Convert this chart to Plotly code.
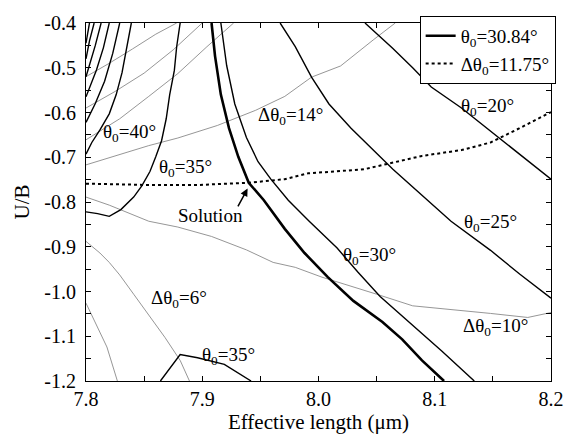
import plotly.graph_objects as go

FONT = "Times New Roman, Liberation Serif, DejaVu Serif, serif"

# ---- theta0 contours (solid black) ----
th3084_x = [7.908, 7.911, 7.916, 7.923, 7.931, 7.940, 7.953, 7.971, 7.988, 8.008, 8.030, 8.055, 8.072, 8.089, 8.108]
th3084_y = [-0.400, -0.474, -0.560, -0.635, -0.699, -0.757, -0.796, -0.860, -0.914, -0.968, -1.021, -1.068, -1.107, -1.154, -1.200]

th30_x = [7.916, 7.921, 7.928, 7.938, 7.948, 7.959, 7.974, 7.992, 8.016, 8.034, 8.053, 8.081, 8.106, 8.134]
th30_y = [-0.400, -0.495, -0.581, -0.656, -0.710, -0.749, -0.796, -0.843, -0.903, -0.957, -1.011, -1.075, -1.133, -1.200]

th25_x = [7.967, 7.980, 7.994, 8.009, 8.028, 8.047, 8.064, 8.089, 8.114, 8.148, 8.173, 8.200]
th25_y = [-0.400, -0.453, -0.521, -0.581, -0.635, -0.684, -0.727, -0.785, -0.843, -0.908, -0.961, -1.015]

th20_x = [8.040, 8.064, 8.081, 8.097, 8.123, 8.148, 8.173, 8.200]
th20_y = [-0.400, -0.457, -0.500, -0.543, -0.590, -0.641, -0.693, -0.749]

th35a_x = [7.881, 7.878, 7.876, 7.872, 7.869, 7.865, 7.860, 7.855, 7.848, 7.841, 7.830, 7.820, 7.810, 7.800]
th35a_y = [-0.400, -0.453, -0.506, -0.560, -0.614, -0.663, -0.699, -0.732, -0.764, -0.789, -0.817, -0.832, -0.826, -0.822]

th35b_x = [7.864, 7.881, 7.896, 7.919, 7.942]
th35b_y = [-1.200, -1.141, -1.148, -1.163, -1.200]

th40_x = [7.839, 7.835, 7.831, 7.826, 7.820, 7.812, 7.805, 7.800]
th40_y = [-0.400, -0.453, -0.511, -0.560, -0.603, -0.639, -0.667, -0.693]

# higher theta0 contours crowded in the upper-left corner
th45_x = [7.829, 7.823, 7.816, 7.808, 7.800]
th45_y = [-0.400, -0.468, -0.530, -0.580, -0.622]
th50_x = [7.820, 7.815, 7.809, 7.800]
th50_y = [-0.400, -0.455, -0.505, -0.565]
th55_x = [7.813, 7.808, 7.800]
th55_y = [-0.400, -0.450, -0.520]
th60_x = [7.807, 7.803, 7.800]
th60_y = [-0.400, -0.440, -0.480]
th65_x = [7.803, 7.800]
th65_y = [-0.400, -0.445]

# ---- delta-theta0 contours (thin grey) ----
d20_x = [7.800, 7.820, 7.840, 7.860, 7.878]
d20_y = [-0.520, -0.490, -0.458, -0.425, -0.400]
d18_x = [7.800, 7.825, 7.850, 7.875, 7.900]
d18_y = [-0.590, -0.553, -0.512, -0.460, -0.400]
d16_x = [7.800, 7.829, 7.854, 7.879, 7.904, 7.927]
d16_y = [-0.661, -0.614, -0.564, -0.513, -0.453, -0.400]
d14_x = [7.800, 7.829, 7.854, 7.879, 7.913, 7.946, 7.971, 7.994, 8.019, 8.047, 8.066]
d14_y = [-0.717, -0.693, -0.674, -0.657, -0.629, -0.595, -0.564, -0.521, -0.496, -0.438, -0.400]
d10_x = [7.800, 7.820, 7.854, 7.879, 7.908, 7.938, 7.961, 7.980, 8.003, 8.025, 8.050, 8.081, 8.114, 8.148, 8.180, 8.200]
d10_y = [-0.789, -0.807, -0.843, -0.856, -0.877, -0.907, -0.935, -0.946, -0.968, -0.985, -1.006, -1.032, -1.040, -1.049, -1.058, -1.047]
d6_x = [7.800, 7.812, 7.820, 7.829, 7.841, 7.854, 7.868, 7.881, 7.889]
d6_y = [-0.888, -0.914, -0.935, -0.963, -1.006, -1.053, -1.103, -1.154, -1.200]
d4_x = [7.800, 7.809, 7.818, 7.827]
d4_y = [-1.026, -1.075, -1.124, -1.200]

# ---- solution delta-theta0 (dotted black) ----
d1175_x = [7.800, 7.854, 7.896, 7.940, 7.971, 7.991, 8.039, 8.089, 8.123, 8.148, 8.173, 8.200]
d1175_y = [-0.759, -0.762, -0.762, -0.757, -0.749, -0.736, -0.727, -0.697, -0.684, -0.667, -0.635, -0.599]

x_ticks = [7.8, 7.9, 8.0, 8.1, 8.2]
x_ticklabels = ["7.8", "7.9", "8.0", "8.1", "8.2"]
y_ticks = [-0.4, -0.5, -0.6, -0.7, -0.8, -0.9, -1.0, -1.1, -1.2]
y_ticklabels = ["-0.4", "-0.5", "-0.6", "-0.7", "-0.8", "-0.9", "-1.0", "-1.1", "-1.2"]

fig = go.Figure()

grey = dict(color="#8a8a8a", width=0.9)
for xs, ys in [(d20_x, d20_y), (d18_x, d18_y), (d16_x, d16_y), (d14_x, d14_y),
               (d10_x, d10_y), (d6_x, d6_y), (d4_x, d4_y)]:
    fig.add_trace(go.Scatter(x=xs, y=ys, mode="lines", line=grey, showlegend=False, hoverinfo="skip"))

black = dict(color="black", width=1.4)
for xs, ys in [(th30_x, th30_y), (th25_x, th25_y), (th20_x, th20_y), (th35a_x, th35a_y),
               (th35b_x, th35b_y), (th40_x, th40_y), (th45_x, th45_y), (th50_x, th50_y),
               (th55_x, th55_y), (th60_x, th60_y), (th65_x, th65_y)]:
    fig.add_trace(go.Scatter(x=xs, y=ys, mode="lines", line=black, showlegend=False, hoverinfo="skip"))

fig.add_trace(go.Scatter(x=th3084_x, y=th3084_y, mode="lines", line=dict(color="black", width=2.6),
                         name="θ<sub>0</sub>=30.84°"))
fig.add_trace(go.Scatter(x=d1175_x, y=d1175_y, mode="lines", line=dict(color="black", width=2, dash="dot"),
                         name="Δθ<sub>0</sub>=11.75°"))

labels = [
    ("θ<sub>0</sub>=40°", 7.837, -0.646),
    ("θ<sub>0</sub>=35°", 7.886, -0.723),
    ("Δθ<sub>0</sub>=14°", 7.976, -0.607),
    ("θ<sub>0</sub>=20°", 8.145, -0.588),
    ("θ<sub>0</sub>=25°", 8.148, -0.847),
    ("θ<sub>0</sub>=30°", 8.044, -0.920),
    ("Δθ<sub>0</sub>=10°", 8.152, -1.079),
    ("Δθ<sub>0</sub>=6°", 7.880, -1.017),
    ("θ<sub>0</sub>=35°", 7.923, -1.144),
    ("Solution", 7.907, -0.830),
]
for t, x, y in labels:
    fig.add_annotation(x=x, y=y, text=t, showarrow=False, font=dict(family=FONT, size=19, color="black"))

fig.add_annotation(x=7.939, y=-0.770, ax=7.930, ay=-0.813, axref="x", ayref="y", text="",
                   showarrow=True, arrowhead=2, arrowsize=1, arrowwidth=1.5, arrowcolor="black")

axis_common = dict(showline=True, linecolor="black", linewidth=1, mirror="ticks", ticks="inside",
                   ticklen=5, tickcolor="black", showgrid=False, zeroline=False,
                   tickfont=dict(family=FONT, size=20, color="black"))
fig.update_xaxes(range=[7.8, 8.2], tickvals=x_ticks, ticktext=x_ticklabels,
                 minor=dict(ticks="inside", dtick=0.05, ticklen=5, tickcolor="black"),
                 title=dict(text="Effective length (μm)", font=dict(family=FONT, size=21, color="black"), standoff=0),
                 **axis_common)
fig.update_yaxes(range=[-1.2, -0.4], tickvals=y_ticks, ticktext=y_ticklabels, ticklabelstandoff=5,
                 minor=dict(ticks="inside", dtick=0.05, ticklen=5, tickcolor="black"),
                 title=dict(text="U/B", font=dict(family=FONT, size=21, color="black"), standoff=8),
                 **axis_common)

fig.update_layout(
    width=576, height=437,
    margin=dict(l=86, r=14, t=15, b=49),
    paper_bgcolor="white", plot_bgcolor="white",
    legend=dict(x=1.01, y=1.02, xanchor="right", yanchor="top", bgcolor="white", bordercolor="black",
                borderwidth=1, font=dict(family=FONT, size=19, color="black"),
                tracegroupgap=0, itemwidth=30),
)

fig.write_html("out.html")
